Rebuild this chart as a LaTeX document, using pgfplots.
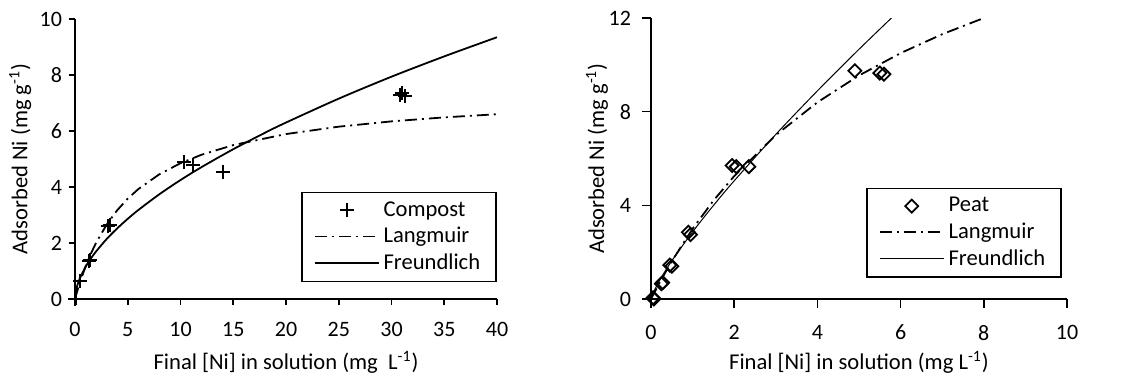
\documentclass[border=0pt]{standalone}
\usepackage{pgfplots}
\pgfplotsset{compat=1.18}
\usepackage{fontspec}
\setmainfont{Carlito}
\begin{document}
\begin{tikzpicture}
\pgfplotsset{
  myax/.style={
    scale only axis,
    axis x line*=bottom, axis y line*=left,
    axis line style={line width=0.9pt,-},
    tick style={line width=0.8pt,black},
    tick align=outside,
    major tick length=3pt,
    /pgf/number format/assume math mode=true,
    tick label style={font=\fontsize{11}{12}\selectfont},
    xticklabel style={yshift=-5pt},
    label style={font=\fontsize{11.3}{13}\selectfont},
    xlabel style={at={(axis description cs:0.5,-0.225)}, anchor=center},
    ylabel style={at={(axis description cs:-0.13,0.5)}, anchor=center, rotate=0},
    legend cell align=left,
    legend image code/.code={\draw[mark repeat=2,mark phase=2,#1] plot coordinates {(0pt,0pt) (16pt,0pt) (32pt,0pt)};},
    legend style={draw=black, line width=0.8pt, font=\fontsize{11.3}{13}\selectfont, inner xsep=6pt, inner ysep=2.5pt, row sep=0pt},
    every axis plot/.append style={black},
    clip=true,
  },
  langm/.style={line width=0.9pt, dash pattern=on 6pt off 2.5pt on 1pt off 2.5pt},
}
\begin{axis}[myax, at={(0,0)}, anchor=south west,
  width=211pt, height=140pt,
  xmin=0, xmax=40, ymin=0, ymax=10,
  xtick={0,5,...,40}, ytick={0,2,...,10},
  xlabel={Final [Ni] in solution (mg\ \ L\textsuperscript{-1})},
  ylabel={Adsorbed Ni (mg g\textsuperscript{-1})},
  legend style={at={(1,0.06)}, anchor=south east},
]
\addplot[only marks, mark=+, mark size=3.5pt, line width=0.9pt] coordinates {
 (0,0) (0.15,0.02) (0.5,0.65) (1.3,1.35) (1.45,1.4) (3.1,2.6) (3.3,2.65)
 (10.3,4.9) (11.2,4.8) (14.0,4.55) (30.8,7.3) (31.0,7.35) (31.3,7.25)};
\addlegendentry{Compost}
\addplot[langm] coordinates {
 (0,0) (0.25,0.328) (0.5,0.629) (1,1.160) (1.5,1.615) (2,2.010) (3,2.658) (4,3.170)
 (5,3.584) (6,3.925) (8,4.456) (10,4.850) (12,5.153) (15,5.497) (20,5.891)
 (25,6.155) (30,6.344) (35,6.487) (40,6.599)};
\addlegendentry{Langmuir}
\addplot[line width=0.9pt, smooth] coordinates {
 (0,0) (0.1,0.309) (0.25,0.521) (0.5,0.773) (1,1.146) (1.5,1.443) (2,1.700) (3,2.141)
 (4,2.522) (5,2.864) (6,3.177) (8,3.742) (10,4.248) (12,4.712) (15,5.35)
 (18,5.936) (20,6.302) (25,7.156) (30,7.94) (35,8.665) (40,9.349)};
\addlegendentry{Freundlich}
\end{axis}
\begin{axis}[myax, at={(288pt,0)}, anchor=south west,
  width=208pt, height=140.5pt,
  xmin=0, xmax=10, ymin=0, ymax=12,
  xtick={0,2,...,10}, ytick={0,4,8,12},
  major tick length=4.5pt,
  yticklabel style={xshift=-2pt},
  xlabel={Final [Ni] in solution (mg L\textsuperscript{-1})},
  ylabel={Adsorbed Ni (mg g\textsuperscript{-1})},
  legend style={at={(0.988,0.075)}, anchor=south east},
]
\addplot[only marks, mark=square, mark size=2.3pt, mark options={rotate=45}, line width=0.9pt] coordinates {
 (0.05,0.05) (0.07,0) (0.25,0.65) (0.28,0.7) (0.45,1.45) (0.5,1.4) (0.9,2.85) (0.95,2.75)
 (1.95,5.7) (2.05,5.65) (2.35,5.65) (4.9,9.75) (5.5,9.65) (5.6,9.6)};
\addlegendentry{Peat}
\addplot[langm] coordinates {
 (0,0) (0.25,0.84) (0.5,1.615) (1,3.0) (1.5,4.2) (2,5.25) (3,7.0) (4,8.4)
 (5,9.545) (6,10.5) (7,11.308) (8,12.0)};
\addlegendentry{Langmuir}
\addplot[line width=0.5pt, smooth] coordinates {
 (0,0) (0.05,0.249) (0.1,0.438) (0.25,0.926) (0.5,1.629) (1,2.868) (1.5,3.992)
 (2,5.049) (3,7.03) (4,8.889) (5,10.665) (6,12.376)};
\addlegendentry{Freundlich}
\end{axis}
\pgfresetboundingbox
\path (-37.5pt,-39pt) rectangle (527pt,149.5pt);
\end{tikzpicture}
\end{document}
